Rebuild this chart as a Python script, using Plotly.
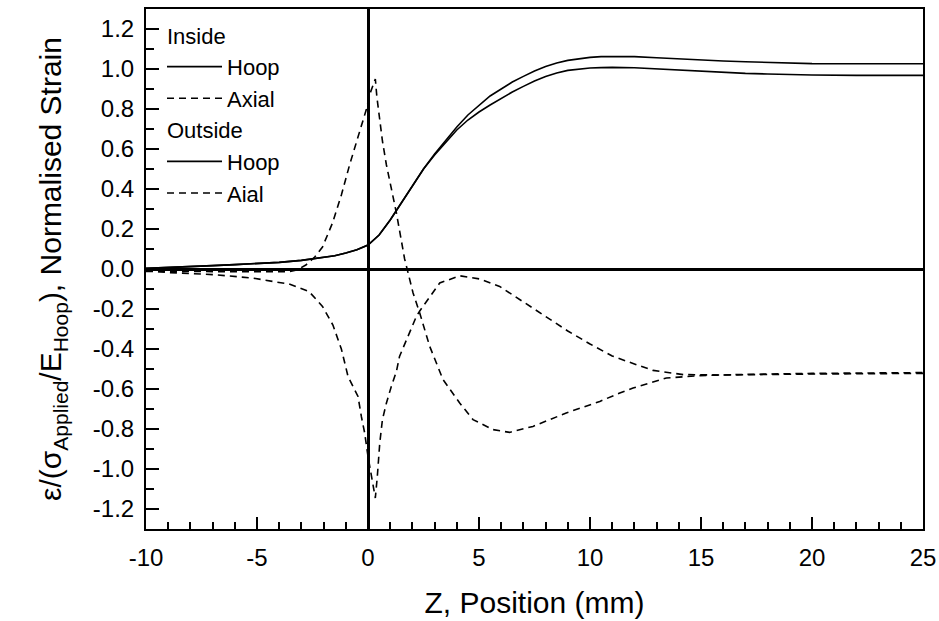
import plotly.graph_objects as go

# ---- data ----
z_hoop = [-10, -8, -7, -6, -4, -3, -2.5, -2, -1.5, -1, -0.5, 0, 0.5, 1, 1.5, 2, 2.5,
          3, 3.5, 4, 4.5, 5, 5.5, 6, 6.5, 7, 7.5, 8, 8.5, 9, 9.5, 10, 10.5, 11, 12,
          13, 14, 15, 16, 17, 18, 19, 20, 22, 25]
hoop_inside = [0.003, 0.010, 0.017, 0.022, 0.033, 0.043, 0.050, 0.057, 0.066, 0.080,
               0.096, 0.120, 0.170, 0.245, 0.330, 0.420, 0.500,
               0.575, 0.645, 0.710, 0.770, 0.820, 0.865, 0.900, 0.935, 0.963, 0.990,
               1.012, 1.030, 1.043, 1.052, 1.058, 1.062, 1.063, 1.062,
               1.056, 1.050, 1.045, 1.040, 1.036, 1.032, 1.029, 1.027, 1.026, 1.026]
hoop_outside = [0.003, 0.010, 0.017, 0.022, 0.033, 0.043, 0.050, 0.057, 0.066, 0.080,
                0.096, 0.120, 0.170, 0.245, 0.330, 0.420, 0.500,
                0.570, 0.635, 0.695, 0.745, 0.785, 0.820, 0.853, 0.885, 0.913, 0.940,
                0.962, 0.980, 0.993, 1.000, 1.005, 1.007, 1.008, 1.006,
                1.000, 0.993, 0.987, 0.982, 0.978, 0.975, 0.972, 0.970, 0.968, 0.968]

z_axial_in = [-10, -8, -6, -4.5, -3.6, -3.2, -2.8, -2.4, -2.05, -1.6, -1.2, -0.83,
              -0.45, -0.25, -0.07, 0.1, 0.33, 0.4, 0.5, 0.65, 0.83, 1.05, 1.28, 1.65,
              2.03, 2.33, 2.78, 3.38, 4.13, 4.73, 5.63, 6.38, 7.43, 8.93, 10.44, 11.34,
              11.94, 13.44, 14.94, 17, 20, 25]
axial_inside = [-0.012, -0.013, -0.014, -0.015, -0.014, -0.005, 0.020, 0.060, 0.110,
                0.230, 0.370, 0.520, 0.660, 0.730, 0.800, 0.880, 0.950, 0.860, 0.770,
                0.640, 0.520, 0.400, 0.280, 0.050, -0.120, -0.220, -0.387, -0.553,
                -0.670, -0.753, -0.803, -0.817, -0.787, -0.720, -0.662, -0.620,
                -0.595, -0.545, -0.533, -0.527, -0.522, -0.518]

z_axial_out = [-10, -9.1, -7, -5.2, -4.3, -3.56, -2.66, -2.05, -1.58, -1.2, -0.9,
               -0.45, -0.3, -0.15, 0, 0.1, 0.23, 0.33, 0.42, 0.53, 0.65, 0.83, 1.05,
               1.28, 1.42, 2.18, 2.33, 3.23, 4.13, 5.03, 5.93, 7, 8, 9, 10, 11, 12,
               12.84, 14.2, 16, 20, 25]
axial_outside = [-0.008, -0.017, -0.028, -0.045, -0.062, -0.075, -0.112, -0.187,
                 -0.280, -0.400, -0.537, -0.637, -0.737, -0.820, -0.937, -0.995,
                 -1.070, -1.145, -1.037, -0.870, -0.753, -0.670, -0.587, -0.512,
                 -0.437, -0.237, -0.210, -0.070, -0.034, -0.050, -0.087, -0.165,
                 -0.235, -0.310, -0.375, -0.435, -0.475, -0.507, -0.528, -0.530,
                 -0.525, -0.522]

x_tickvals = [-10, -5, 0, 5, 10, 15, 20, 25]
x_ticktext = ["-10", "-5", "0", "5", "10", "15", "20", "25"]
y_tickvals = [-1.2, -1.0, -0.8, -0.6, -0.4, -0.2, 0.0, 0.2, 0.4, 0.6, 0.8, 1.0, 1.2]
y_ticktext = ["-1.2", "-1.0", "-0.8", "-0.6", "-0.4", "-0.2", "0.0",
              "0.2", "0.4", "0.6", "0.8", "1.0", "1.2"]

FONT = "Liberation Sans, Arial, Helvetica, sans-serif"
DASH = "7px,5px"

fig = go.Figure()
fig.add_trace(go.Scatter(x=z_hoop, y=hoop_inside, mode="lines", name="Hoop",
                         line=dict(color="black", width=1.6),
                         legendgroup="inside", legendgrouptitle_text="Inside"))
fig.add_trace(go.Scatter(x=z_axial_in, y=axial_inside, mode="lines", name="Axial",
                         line=dict(color="black", width=1.6, dash=DASH),
                         legendgroup="inside"))
fig.add_trace(go.Scatter(x=z_hoop, y=hoop_outside, mode="lines", name="Hoop",
                         line=dict(color="black", width=1.6),
                         legendgroup="outside", legendgrouptitle_text="Outside"))
fig.add_trace(go.Scatter(x=z_axial_out, y=axial_outside, mode="lines", name="Aial",
                         line=dict(color="black", width=1.6, dash=DASH),
                         legendgroup="outside"))

fig.update_layout(
    width=939, height=621,
    margin=dict(l=146, r=16, t=9, b=92),
    paper_bgcolor="white", plot_bgcolor="white",
    font=dict(family=FONT, color="black", size=24),
    showlegend=True,
    legend=dict(x=0.0206, y=0.99, xanchor="left", yanchor="top",
                bgcolor="rgba(0,0,0,0)", borderwidth=0,
                traceorder="grouped", tracegroupgap=0, itemwidth=55,
                font=dict(size=22, family=FONT, color="black"),
                grouptitlefont=dict(size=22, family=FONT, color="black")),
)

fig.update_xaxes(
    range=[-10, 25], tickmode="array", tickvals=x_tickvals, ticktext=x_ticktext,
    ticks="inside", ticklen=12, tickwidth=2, tickcolor="black",
    minor=dict(tickmode="linear", tick0=0, dtick=1, ticks="inside", ticklen=7,
               tickwidth=2, tickcolor="black", showgrid=False),
    showgrid=False, showline=True, linewidth=2, linecolor="black", mirror=True,
    zeroline=True, zerolinewidth=3, zerolinecolor="black",
    tickfont=dict(size=24, family=FONT), ticklabelstandoff=6,
    title=dict(text="Z, Position (mm)", font=dict(size=30, family=FONT), standoff=22),
    automargin=False,
)
fig.update_yaxes(
    range=[-1.3, 1.3], tickmode="array", tickvals=y_tickvals, ticktext=y_ticktext,
    ticks="inside", ticklen=13, tickwidth=2, tickcolor="black",
    minor=dict(tickmode="linear", tick0=0, dtick=0.1, ticks="inside", ticklen=8,
               tickwidth=2, tickcolor="black", showgrid=False),
    showgrid=False, showline=True, linewidth=2, linecolor="black", mirror=True,
    zeroline=True, zerolinewidth=3, zerolinecolor="black",
    tickfont=dict(size=24, family=FONT), ticklabelstandoff=5,
    title=dict(text="ε/(σ<sub>Applied</sub>/E<sub>Hoop</sub>), Normalised Strain",
               font=dict(size=30, family=FONT), standoff=22),
    automargin=False,
)

fig.write_html("out.html")
